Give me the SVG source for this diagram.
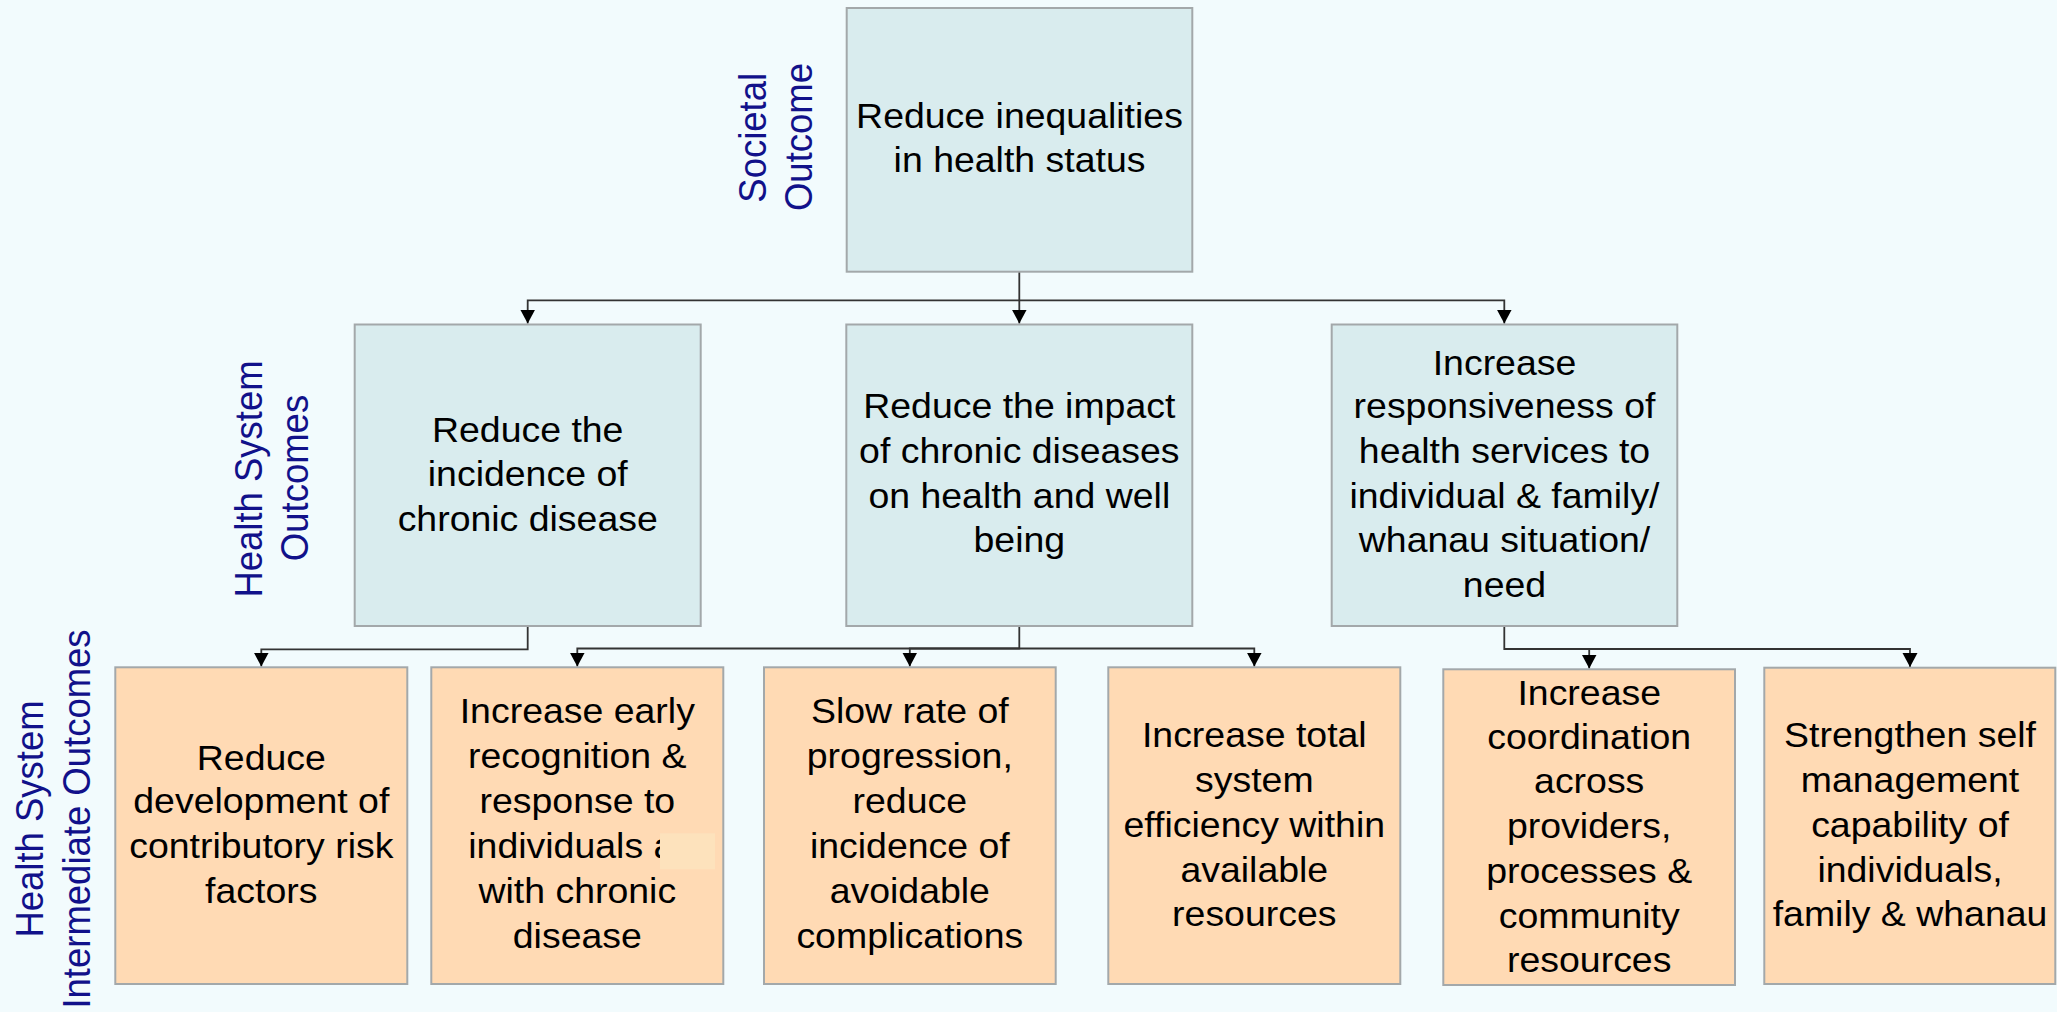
<svg xmlns="http://www.w3.org/2000/svg" width="2057" height="1012" viewBox="0 0 2057 1012">
<style>
.bg{fill:#f2fbfd}
.blue{fill:#d9ecee;stroke:#a3a8aa;stroke-width:2}
.peach{fill:#ffdab4;stroke:#a3a8aa;stroke-width:2}
.t{font-family:"Liberation Sans",Arial,sans-serif;font-size:35px;fill:#000;text-anchor:middle}
.ts{font-family:"Liberation Sans",Arial,sans-serif;font-size:35px;fill:#000;text-anchor:start}
.lab{font-family:"Liberation Sans",Arial,sans-serif;font-size:36.5px;fill:#11118a;text-anchor:middle}
.c{fill:none;stroke:#333;stroke-width:1.8}
</style>
<defs>
<marker id="arr" markerUnits="userSpaceOnUse" markerWidth="15" markerHeight="16" refX="14" refY="7.5" orient="auto" viewBox="0 0 15 16">
<path d="M0,0 L14,7.5 L0,15 z" fill="#000"/>
</marker>
</defs>
<rect class="bg" x="0" y="0" width="2057" height="1012"/>

<g id="labels">
<text class="lab" transform="translate(765.7 137.8) scale(1.07 1) rotate(-90)">Societal</text>
<text class="lab" transform="translate(811.7 137) scale(1.07 1) rotate(-90)">Outcome</text>
<text class="lab" transform="translate(261.7 479) scale(1.07 1) rotate(-90)">Health System</text>
<text class="lab" transform="translate(308.3 478) scale(1.07 1) rotate(-90)">Outcomes</text>
<text class="lab" transform="translate(43.3 819) scale(1.07 1) rotate(-90)">Health System</text>
<text class="lab" transform="translate(90 819) scale(1.07 1) rotate(-90)">Intermediate Outcomes</text>
</g>

<g id="connectors">
<path class="c" d="M1019.3,272 V323.5" marker-end="url(#arr)"/>
<path class="c" d="M1019.3,300.3 H527.7 V323.5" marker-end="url(#arr)"/>
<path class="c" d="M1019.3,300.3 H1504.3 V323.5" marker-end="url(#arr)"/>
<path class="c" d="M527.7,626 V649.3 H261.3 V666.5" marker-end="url(#arr)"/>
<path class="c" d="M1019.3,626 V648.5 H577.3 V666.5" marker-end="url(#arr)"/>
<path class="c" d="M1019.3,648.5 H909.8 V666.5" marker-end="url(#arr)"/>
<path class="c" d="M1019.3,648.5 H1254.3 V666.5" marker-end="url(#arr)"/>
<path class="c" d="M1504.3,626 V649 H1589.2 V668.5" marker-end="url(#arr)"/>
<path class="c" d="M1504.3,649 H1910 V667" marker-end="url(#arr)"/>
</g>

<g id="n-top">
<rect class="blue" x="846.7" y="8" width="345.6" height="263.7"/>
<text class="t" transform="translate(1019.5 0) scale(1.07 1)"><tspan x="0" y="128.3">Reduce inequalities</tspan><tspan x="0" y="171.7">in health status</tspan></text>
</g>

<g id="n-mid-left">
<rect class="blue" x="354.7" y="324.5" width="346" height="301.5"/>
<text class="t" transform="translate(527.7 0) scale(1.07 1)"><tspan x="0" y="441.7">Reduce the</tspan><tspan x="0" y="486.5">incidence of</tspan><tspan x="0" y="531">chronic disease</tspan></text>
</g>

<g id="n-mid-center">
<rect class="blue" x="846.3" y="324.5" width="346" height="301.5"/>
<text class="t" transform="translate(1019.3 0) scale(1.07 1)"><tspan x="0" y="418.3">Reduce the impact</tspan><tspan x="0" y="463.3">of chronic diseases</tspan><tspan x="0" y="508.3">on health and well</tspan><tspan x="0" y="552">being</tspan></text>
</g>

<g id="n-mid-right">
<rect class="blue" x="1331.7" y="324.5" width="345.6" height="301.5"/>
<text class="t" transform="translate(1504.5 0) scale(1.07 1)"><tspan x="0" y="375">Increase</tspan><tspan x="0" y="418.3">responsiveness of</tspan><tspan x="0" y="463.3">health services to</tspan><tspan x="0" y="508.3">individual &amp; family/</tspan><tspan x="0" y="552">whanau situation/</tspan><tspan x="0" y="596.7">need</tspan></text>
</g>

<g id="n-b1">
<rect class="peach" x="115.3" y="667.3" width="292" height="316.7"/>
<text class="t" transform="translate(261.3 0) scale(1.07 1)"><tspan x="0" y="770">Reduce</tspan><tspan x="0" y="813.3">development of</tspan><tspan x="0" y="858.3">contributory risk</tspan><tspan x="0" y="902.7">factors</tspan></text>
</g>

<g id="n-b2">
<rect class="peach" x="431.3" y="667.3" width="292" height="316.7"/>
<text class="t" transform="translate(577.3 0) scale(1.07 1)"><tspan x="0" y="723.3">Increase early</tspan><tspan x="0" y="768.3">recognition &amp;</tspan><tspan x="0" y="813.3">response to</tspan><tspan x="0" y="903.3">with chronic</tspan><tspan x="0" y="948.3">disease</tspan></text>
<text class="ts" transform="translate(468.3 0) scale(1.07 1)" x="0" y="858.3">individuals a</text>
<rect x="660" y="833.3" width="55" height="36" fill="#fde2bc"/>
</g>

<g id="n-b3">
<rect class="peach" x="764" y="667.3" width="291.7" height="316.7"/>
<text class="t" transform="translate(909.8 0) scale(1.07 1)"><tspan x="0" y="723.3">Slow rate of</tspan><tspan x="0" y="768.3">progression,</tspan><tspan x="0" y="813.3">reduce</tspan><tspan x="0" y="858.3">incidence of</tspan><tspan x="0" y="903.3">avoidable</tspan><tspan x="0" y="948.3">complications</tspan></text>
</g>

<g id="n-b4">
<rect class="peach" x="1108.3" y="667.3" width="292" height="316.7"/>
<text class="t" transform="translate(1254.3 0) scale(1.07 1)"><tspan x="0" y="746.7">Increase total</tspan><tspan x="0" y="791.7">system</tspan><tspan x="0" y="836.7">efficiency within</tspan><tspan x="0" y="881.7">available</tspan><tspan x="0" y="926">resources</tspan></text>
</g>

<g id="n-b5">
<rect class="peach" x="1443.3" y="669.3" width="291.7" height="315.7"/>
<text class="t" transform="translate(1589.2 0) scale(1.07 1)"><tspan x="0" y="705">Increase</tspan><tspan x="0" y="749.3">coordination</tspan><tspan x="0" y="793.5">across</tspan><tspan x="0" y="838.3">providers,</tspan><tspan x="0" y="883.3">processes &amp;</tspan><tspan x="0" y="928">community</tspan><tspan x="0" y="972">resources</tspan></text>
</g>

<g id="n-b6">
<rect class="peach" x="1764.3" y="667.7" width="291" height="316.3"/>
<text class="t" transform="translate(1910 0) scale(1.07 1)"><tspan x="0" y="746.7">Strengthen self</tspan><tspan x="0" y="791.7">management</tspan><tspan x="0" y="836.7">capability of</tspan><tspan x="0" y="881.7">individuals,</tspan><tspan x="0" y="926">family &amp; whanau</tspan></text>
</g>
</svg>
